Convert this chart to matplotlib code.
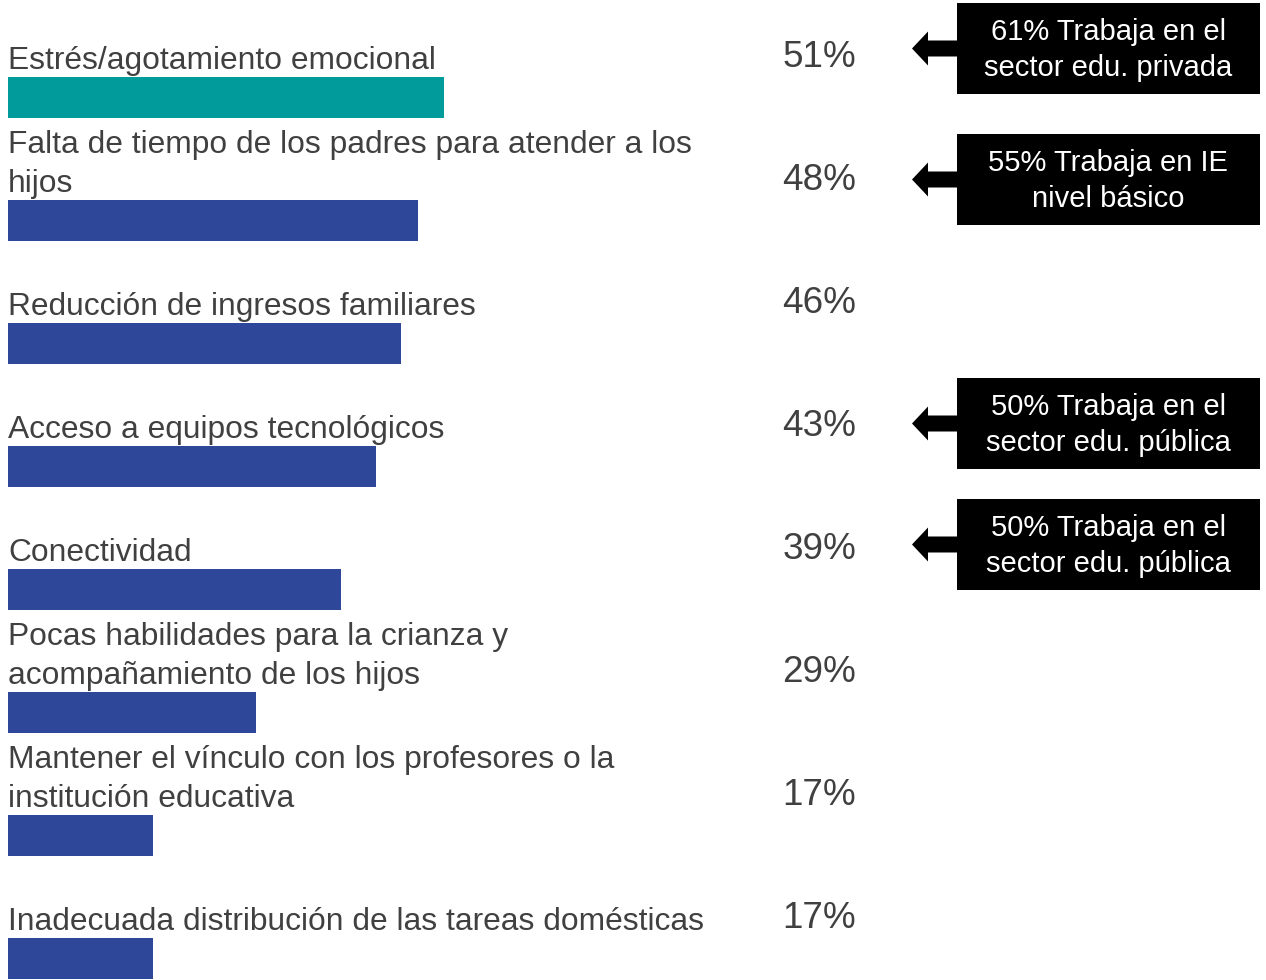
import matplotlib
matplotlib.use("Agg")
import matplotlib.pyplot as plt
from matplotlib.patches import Rectangle, FancyArrow

# Data
categories = [
    "Estrés/agotamiento emocional",
    "Falta de tiempo de los padres para atender a los\nhijos",
    "Reducción de ingresos familiares",
    "Acceso a equipos tecnológicos",
    "Conectividad",
    "Pocas habilidades para la crianza y\nacompañamiento de los hijos",
    "Mantener el vínculo con los profesores o la\ninstitución educativa",
    "Inadecuada distribución de las tareas domésticas",
]
values = [51, 48, 46, 43, 39, 29, 17, 17]
bar_colors = ["#009B9A"] + ["#2E4799"] * 7
note_rows = [0, 1, 3, 4]
note_texts = [
    "61% Trabaja en el\nsector edu. privada",
    "55% Trabaja en IE\nnivel básico",
    "50% Trabaja en el\nsector edu. pública",
    "50% Trabaja en el\nsector edu. pública",
]
# vertical offset (px, upward) of each callout from its bar centre
note_shift_px = [49, 41, 43, 45]

text_color = "#404040"
plt.rcParams["font.family"] = ["Liberation Sans", "DejaVu Sans"]

fig = plt.figure(figsize=(12.66, 9.8), dpi=100)
ax = fig.add_axes([0, 0, 1, 1])

# pixel scale: 1% ~ 8.55 px, row pitch 123 px
px_per_pct = 8.55
row_px = 123
ax.set_xlim(-8 / px_per_pct, (1266 - 8) / px_per_pct)
ax.set_ylim((980 - 97.5) / row_px, -97.5 / row_px)
ax.axis("off")

bar_h = 41 / row_px
rows = list(range(len(values)))
ax.barh(rows, values, height=bar_h, color=bar_colors, align="center")

for i, (lab, v) in enumerate(zip(categories, values)):
    ax.text(0, i - bar_h / 2 - 0.005, lab, ha="left", va="bottom",
            fontsize=22.9, color=text_color, linespacing=1.4)
    ax.text(99.2, i - bar_h / 2 - 0.085, f"{v}%", ha="right", va="baseline",
            fontsize=26.6, color=text_color)

box_x0 = (957 - 8) / px_per_pct
box_x1 = (1260 - 8) / px_per_pct
tip_x = (912 - 8) / px_per_pct
box_h = 91 / row_px
for i, txt, shift in zip(note_rows, note_texts, note_shift_px):
    yc = i - shift / row_px
    ax.add_patch(Rectangle((box_x0, yc - box_h / 2), box_x1 - box_x0, box_h,
                           facecolor="black", edgecolor="none"))
    ax.text((box_x0 + box_x1) / 2, yc + 0.01, txt, ha="center", va="center",
            fontsize=21, color="white", linespacing=1.37)
    ax.add_patch(FancyArrow(box_x0 + 0.1, yc, tip_x - box_x0 - 0.1, 0,
                            width=16 / row_px, head_width=34 / row_px,
                            head_length=16 / px_per_pct,
                            length_includes_head=True,
                            facecolor="black", edgecolor="none"))

fig.savefig("out.png", dpi=100)
